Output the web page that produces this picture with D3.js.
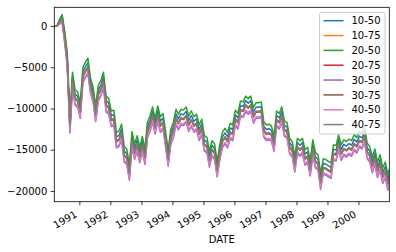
<!DOCTYPE html>
<html>
<head>
<meta charset="utf-8">
<script src="https://cdn.jsdelivr.net/npm/d3@7"></script>
<style>
  body { margin: 0; background: #fff; }
  svg { display: block; font-family: 'DejaVu Sans', sans-serif; }
</style>
</head>
<body>
<div id="chart"></div>
<script>
// monthly readings, 12th of each month from March 1990, plus the last trading day
const firstMonth = new Date(1990, 2, 12)
const monthCount = 130
const lastDay = new Date(2000, 11, 29)

const seriesNames = ['10-50', '10-75', '20-50', '20-75', '30-50', '30-75', '40-50', '40-75']
const colors = ['#1f77b4', '#ff7f0e', '#2ca02c', '#d62728', '#9467bd', '#8c564b', '#e377c2', '#7f7f7f']

const yTicks = [0, -5000, -10000, -15000, -20000]
const yearTicks = [1991, 1992, 1993, 1994, 1995, 1996, 1997, 1998, 1999, 2000]

const s10_50 = [0,0,700,1250,-900,-3750,
  -11650,-6150,-8250,-8550,-9850,-5550,-4950,-4450,-6850,-7950,-10250,-7750,-7150,-6150,
  -9050,-9350,-10850,-10750,-13450,-13250,-12450,-15150,-15450,-17350,
  -13350,-14850,-13850,-15250,-13950,-15450,-12250,-11450,-10350,-11750,
  -10250,-11550,-11150,-13250,-15650,-13050,-12250,-10650,-11250,-10650,
  -10750,-10350,-11450,-10850,-11550,-11250,-12550,-11850,-13850,-14050,
  -15750,-14450,-14850,-16950,-14950,-13450,-12950,-13450,-12350,-12550,
  -10750,-11150,-9650,-9750,-9050,-9350,-9050,-10450,-9850,-9850,
  -9750,-12150,-12550,-12450,-12650,-13850,-10850,-11150,-10350,-12050,
  -12250,-14150,-14550,-16350,-14150,-14450,-14150,-15550,-15250,-16850,
  -14350,-15850,-16150,-18450,-16650,-16750,-16950,-17150,-14950,-15050,
  -13750,-14950,-14350,-14550,-14250,-14450,-13750,-14050,-13350,-13550,
  -12750,-14750,-15150,-16450,-15450,-17050,-16150,-17750,-17050,-18550,
  -17950]

const s10_75 = [0,0,450,860,-1340,-4240,
  -12140,-6640,-8740,-9040,-10340,-6040,-5440,-4940,-7340,-8440,-10740,-8240,-7640,-6640,
  -9540,-9840,-11340,-11240,-13940,-13740,-12940,-15640,-15940,-17840,
  -13840,-15340,-14340,-15740,-14440,-15940,-12740,-11940,-10840,-12240,
  -10740,-12040,-11640,-13740,-16140,-13540,-12740,-11140,-11740,-11140,
  -11240,-10840,-11940,-11340,-12040,-11740,-13040,-12340,-14340,-14540,
  -16240,-14940,-15340,-17440,-15440,-13940,-13440,-13940,-12840,-13040,
  -11240,-11640,-10140,-10240,-9540,-9840,-9540,-10940,-10340,-10340,
  -10240,-12640,-13040,-12940,-13140,-14340,-11340,-11640,-10840,-12540,
  -12740,-14640,-15040,-16840,-14640,-14940,-14640,-16040,-15740,-17340,
  -14840,-16340,-16640,-18940,-17140,-17240,-17440,-17640,-15440,-15540,
  -14240,-15440,-14840,-15040,-14740,-14940,-14240,-14540,-13840,-14040,
  -13240,-15240,-15640,-16940,-15940,-17540,-16640,-18240,-17540,-19040,
  -18440]

const s20_50 = [0,0,750,1400,-600,-3300,
  -11100,-5600,-7700,-8000,-9300,-5000,-4400,-3900,-6300,-7400,-9700,-7200,-6600,-5600,
  -8500,-8800,-10300,-10200,-12900,-12700,-11900,-14600,-14900,-16800,
  -12800,-14300,-13300,-14700,-13400,-14900,-11700,-10900,-9800,-11200,
  -9700,-11000,-10600,-12700,-15100,-12500,-11700,-10100,-10700,-10100,
  -10200,-9800,-10900,-10300,-11000,-10700,-12000,-11300,-13300,-13500,
  -15200,-13900,-14300,-16400,-14400,-12900,-12400,-12900,-11800,-12000,
  -10200,-10600,-9100,-9200,-8500,-8800,-8500,-9900,-9300,-9300,
  -9200,-11600,-12000,-11900,-12100,-13300,-10300,-10600,-9800,-11500,
  -11700,-13600,-14000,-15800,-13600,-13900,-13600,-15000,-14700,-16300,
  -13800,-15300,-15600,-17900,-16100,-16200,-16400,-16600,-14400,-14500,
  -13200,-14400,-13800,-14000,-13700,-13900,-13200,-13500,-12800,-13000,
  -12200,-14200,-14600,-15900,-14900,-16500,-15600,-17200,-16500,-18000,
  -17400]

const s20_75 = [0,0,450,830,-1370,-4270,
  -12170,-6670,-8770,-9070,-10370,-6070,-5470,-4970,-7370,-8470,-10770,-8270,-7670,-6670,
  -9570,-9870,-11370,-11270,-13970,-13770,-12970,-15670,-15970,-17870,
  -13870,-15370,-14370,-15770,-14470,-15970,-12770,-11970,-10870,-12270,
  -10770,-12070,-11670,-13770,-16170,-13570,-12770,-11170,-11770,-11170,
  -11270,-10870,-11970,-11370,-12070,-11770,-13070,-12370,-14370,-14570,
  -16270,-14970,-15370,-17470,-15470,-13970,-13470,-13970,-12870,-13070,
  -11270,-11670,-10170,-10270,-9570,-9870,-9570,-10970,-10370,-10370,
  -10270,-12670,-13070,-12970,-13170,-14370,-11370,-11670,-10870,-12570,
  -12770,-14670,-15070,-16870,-14670,-14970,-14670,-16070,-15770,-17370,
  -14870,-16370,-16670,-18970,-17170,-17270,-17470,-17670,-15470,-15570,
  -14270,-15470,-14870,-15070,-14770,-14970,-14270,-14570,-13870,-14070,
  -13270,-15270,-15670,-16970,-15970,-17570,-16670,-18270,-17570,-19070,
  -18470]

const s30_50 = [0,0,250,400,-2000,-5000,
  -12980,-7480,-9580,-9880,-11180,-6880,-6280,-5780,-8180,-9280,-11580,-9080,-8480,-7480,
  -10380,-10680,-12180,-12080,-14780,-14580,-13780,-16480,-16780,-18680,
  -14680,-16180,-15180,-16580,-15280,-16780,-13580,-12780,-11680,-13080,
  -11580,-12880,-12480,-14580,-16980,-14380,-13580,-11980,-12580,-11980,
  -12080,-11680,-12780,-12180,-12880,-12580,-13880,-13180,-15180,-15380,
  -17080,-15780,-16180,-18280,-16280,-14780,-14280,-14780,-13680,-13880,
  -12080,-12480,-10980,-11080,-10380,-10680,-10380,-11780,-11180,-11180,
  -11080,-13480,-13880,-13780,-13980,-15180,-12180,-12480,-11680,-13380,
  -13580,-15480,-15880,-17680,-15480,-15780,-15480,-16880,-16580,-18180,
  -15680,-17180,-17480,-19780,-17980,-18080,-18280,-18480,-16280,-16380,
  -15080,-16280,-15680,-15880,-15580,-15780,-15080,-15380,-14680,-14880,
  -14080,-16080,-16480,-17780,-16780,-18380,-17480,-19080,-18380,-19880,
  -19280]

const s30_75 = [0,0,450,750,-1450,-4350,
  -12250,-6750,-8850,-9150,-10450,-6150,-5550,-5050,-7450,-8550,-10850,-8350,-7750,-6750,
  -9650,-9950,-11450,-11350,-14050,-13850,-13050,-15750,-16050,-17950,
  -13950,-15450,-14450,-15850,-14550,-16050,-12850,-12050,-10950,-12350,
  -10850,-12150,-11750,-13850,-16250,-13650,-12850,-11250,-11850,-11250,
  -11350,-10950,-12050,-11450,-12150,-11850,-13150,-12450,-14450,-14650,
  -16350,-15050,-15450,-17550,-15550,-14050,-13550,-14050,-12950,-13150,
  -11350,-11750,-10250,-10350,-9650,-9950,-9650,-11050,-10450,-10450,
  -10350,-12750,-13150,-13050,-13250,-14450,-11450,-11750,-10950,-12650,
  -12850,-14750,-15150,-16950,-14750,-15050,-14750,-16150,-15850,-17450,
  -14950,-16450,-16750,-19050,-17250,-17350,-17550,-17750,-15550,-15650,
  -14350,-15550,-14950,-15150,-14850,-15050,-14350,-14650,-13950,-14150,
  -13350,-15350,-15750,-17050,-16050,-17650,-16750,-18350,-17650,-19150,
  -18550]

const s40_50 = [0,0,300,500,-1850,-4850,
  -12800,-7300,-9400,-9700,-11000,-6700,-6100,-5600,-8000,-9100,-11400,-8900,-8300,-7300,
  -10200,-10500,-12000,-11900,-14600,-14400,-13600,-16300,-16600,-18500,
  -14500,-16000,-15000,-16400,-15100,-16600,-13400,-12600,-11500,-12900,
  -11400,-12700,-12300,-14400,-16800,-14200,-13400,-11800,-12400,-11800,
  -11900,-11500,-12600,-12000,-12700,-12400,-13700,-13000,-15000,-15200,
  -16900,-15600,-16000,-18100,-16100,-14600,-14100,-14600,-13500,-13700,
  -11900,-12300,-10800,-10900,-10200,-10500,-10200,-11600,-11000,-11000,
  -10900,-13300,-13700,-13600,-13800,-15000,-12000,-12300,-11500,-13200,
  -13400,-15300,-15700,-17500,-15300,-15600,-15300,-16700,-16400,-18000,
  -15500,-17000,-17300,-19600,-17800,-17900,-18100,-18300,-16100,-16200,
  -14900,-16100,-15500,-15700,-15400,-15600,-14900,-15200,-14500,-14700,
  -13900,-15900,-16300,-17600,-16600,-18200,-17300,-18900,-18200,-19700,
  -19100]

const s40_75 = [0,0,450,800,-1400,-4300,
  -12200,-6700,-8800,-9100,-10400,-6100,-5500,-5000,-7400,-8500,-10800,-8300,-7700,-6700,
  -9600,-9900,-11400,-11300,-14000,-13800,-13000,-15700,-16000,-17900,
  -13900,-15400,-14400,-15800,-14500,-16000,-12800,-12000,-10900,-12300,
  -10800,-12100,-11700,-13800,-16200,-13600,-12800,-11200,-11800,-11200,
  -11300,-10900,-12000,-11400,-12100,-11800,-13100,-12400,-14400,-14600,
  -16300,-15000,-15400,-17500,-15500,-14000,-13500,-14000,-12900,-13100,
  -11300,-11700,-10200,-10300,-9600,-9900,-9600,-11000,-10400,-10400,
  -10300,-12700,-13100,-13000,-13200,-14400,-11400,-11700,-10900,-12600,
  -12800,-14700,-15100,-16900,-14700,-15000,-14700,-16100,-15800,-17400,
  -14900,-16400,-16700,-19000,-17200,-17300,-17500,-17700,-15500,-15600,
  -14300,-15500,-14900,-15100,-14800,-15000,-14300,-14600,-13900,-14100,
  -13300,-15300,-15700,-17000,-16000,-17600,-16700,-18300,-17600,-19100,
  -18500]

const seriesValues = [s10_50, s10_75, s20_50, s20_75, s30_50, s30_75, s40_50, s40_75]

const dates = d3.range(monthCount)
  .map(i => d3.timeMonth.offset(firstMonth, i))
  .concat([lastDay])

const width = 396
const height = 252
const plot = { left: 54.3, right: 389.3, top: 7.3, bottom: 201.7 }

const svg = d3.select('#chart')
  .append('svg')
  .attr('width', width)
  .attr('height', height)

svg.append('rect')
  .attr('width', width)
  .attr('height', height)
  .attr('fill', '#fff')

const x = d3.scaleTime()
  .domain(d3.extent(dates))
  .range([plot.left, plot.right])

const y = d3.scaleLinear()
  .domain([-21300, 2270])
  .range([plot.bottom, plot.top])

svg.append('clipPath')
  .attr('id', 'plot-clip')
  .append('rect')
  .attr('x', plot.left)
  .attr('y', plot.top)
  .attr('width', plot.right - plot.left)
  .attr('height', plot.bottom - plot.top)

const line = d3.line()
  .x((d, i) => x(dates[i]))
  .y(d => y(d))

svg.append('g')
  .attr('clip-path', 'url(#plot-clip)')
  .selectAll('path')
  .data(seriesValues)
  .enter()
  .append('path')
  .attr('d', d => line(d))
  .attr('fill', 'none')
  .attr('stroke', (d, i) => colors[i])
  .attr('stroke-width', 1.5)
  .attr('stroke-linejoin', 'round')

// axes
const yAxis = svg.append('g')
  .attr('transform', `translate(${plot.left},0)`)
  .call(d3.axisLeft(y).tickValues(yTicks).tickSize(3.5).tickPadding(3.5).tickFormat(d3.format('d')))

const xAxis = svg.append('g')
  .attr('transform', `translate(0,${plot.bottom})`)
  .call(d3.axisBottom(x)
    .tickValues(yearTicks.map(yr => new Date(yr, 0, 1)))
    .tickSize(3.5)
    .tickFormat(d3.timeFormat('%Y')))

for (const axis of [xAxis, yAxis]) {
  axis.select('.domain').remove()
  axis.selectAll('line').attr('stroke', '#000').attr('stroke-width', 0.8)
  axis.selectAll('text').attr('fill', '#000').style('font-size', '10px').style('font-family', 'DejaVu Sans')
}

xAxis.selectAll('text')
  .attr('x', 0)
  .attr('y', 0)
  .attr('dy', 0)
  .attr('text-anchor', 'end')
  .attr('transform', 'translate(-2,14.5) rotate(-30)')

svg.append('rect')
  .attr('x', plot.left)
  .attr('y', plot.top)
  .attr('width', plot.right - plot.left)
  .attr('height', plot.bottom - plot.top)
  .attr('fill', 'none')
  .attr('stroke', '#000')
  .attr('stroke-width', 0.8)

svg.append('text')
  .attr('x', (plot.left + plot.right) / 2)
  .attr('y', 243.3)
  .attr('text-anchor', 'middle')
  .attr('font-size', '10px')
  .attr('fill', '#000')
  .text('DATE')

// legend
const legend = svg.append('g')
  .attr('transform', 'translate(319.5,12.3)')

legend.append('rect')
  .attr('width', 65.5)
  .attr('height', 121.7)
  .attr('rx', 2)
  .attr('fill', '#fff')
  .attr('fill-opacity', 0.8)
  .attr('stroke', '#ccc')
  .attr('stroke-width', 1)

const entry = legend.selectAll('.entry')
  .data(seriesNames)
  .enter()
  .append('g')
  .attr('class', 'entry')
  .attr('transform', (d, i) => `translate(0,${8.4 + i * 14.84})`)

entry.append('line')
  .attr('x1', 4)
  .attr('x2', 24)
  .attr('stroke', (d, i) => colors[i])
  .attr('stroke-width', 1.5)

entry.append('text')
  .attr('x', 32)
  .attr('y', 3.6)
  .attr('font-size', '10px')
  .attr('fill', '#000')
  .text(d => d)
</script>
</body>
</html>
